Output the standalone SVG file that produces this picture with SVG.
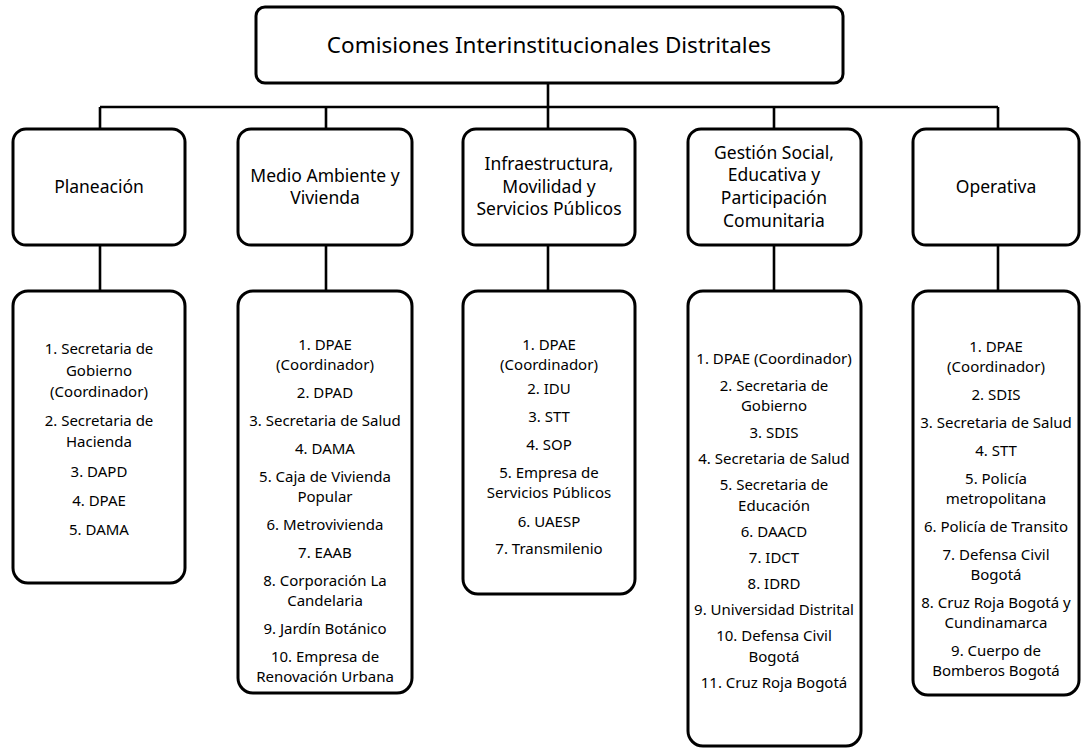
<svg xmlns="http://www.w3.org/2000/svg" width="1081" height="749" viewBox="0 0 1081 749">
  <style>
    .box { fill: #ffffff; stroke: #000000; stroke-width: 3; }
    .wire { fill: none; stroke: #000000; stroke-width: 2.6; }
    text { font-family: "Noto Sans", "Open Sans", sans-serif; fill: #000000; text-anchor: middle; }
    .title { font-size: 22.5px; }
    .head { font-size: 17.5px; }
    .item { font-size: 15px; }
  </style>
  <rect width="1081" height="749" fill="#ffffff"/>

  <!-- tree connectors -->
  <g id="connectors">
    <path class="wire" d="M548 83 V107 M100 107 H998"/>
    <path class="wire" d="M100 107 V129 M326 107 V129 M548 107 V129 M774 107 V129 M998 107 V129"/>
    <path class="wire" d="M100 245 V291 M326 245 V291 M548 245 V291 M774 245 V291 M998 245 V291"/>
  </g>

  <!-- root -->
  <g id="root">
    <rect class="box" x="256" y="7" width="587" height="76" rx="9"/>
    <text class="title" x="549" y="53">Comisiones Interinstitucionales Distritales</text>
  </g>

  <!-- commission headings -->
  <g id="planeacion">
    <rect class="box" x="13" y="129" width="172" height="116" rx="13"/>
    <text class="head" x="99" y="193">Planeación</text>
  </g>
  <g id="medio-ambiente">
    <rect class="box" x="238" y="129" width="174" height="116" rx="13"/>
    <text class="head" x="325" y="182">Medio Ambiente y</text>
    <text class="head" x="325" y="204">Vivienda</text>
  </g>
  <g id="infraestructura">
    <rect class="box" x="463" y="129" width="172" height="116" rx="13"/>
    <text class="head" x="549" y="170">Infraestructura,</text>
    <text class="head" x="549" y="193">Movilidad y</text>
    <text class="head" x="549" y="215">Servicios Públicos</text>
  </g>
  <g id="gestion-social">
    <rect class="box" x="688" y="129" width="173" height="116" rx="13"/>
    <text class="head" x="774" y="159">Gestión Social,</text>
    <text class="head" x="774" y="181">Educativa y</text>
    <text class="head" x="774" y="204">Participación</text>
    <text class="head" x="774" y="227">Comunitaria</text>
  </g>
  <g id="operativa">
    <rect class="box" x="913" y="129" width="166" height="116" rx="13"/>
    <text class="head" x="996" y="193">Operativa</text>
  </g>

  <!-- member lists -->
  <g id="planeacion-miembros">
    <rect class="box" x="13" y="291" width="172" height="292" rx="15"/>
    <text class="item" x="99" y="354">1. Secretaria de</text>
    <text class="item" x="99" y="376">Gobierno</text>
    <text class="item" x="99" y="397">(Coordinador)</text>
    <text class="item" x="99" y="426">2. Secretaria de</text>
    <text class="item" x="99" y="447">Hacienda</text>
    <text class="item" x="99" y="477">3. DAPD</text>
    <text class="item" x="99" y="506">4. DPAE</text>
    <text class="item" x="99" y="535">5. DAMA</text>
  </g>
  <g id="medio-ambiente-miembros">
    <rect class="box" x="238" y="291" width="174" height="402" rx="15"/>
    <text class="item" x="325" y="350">1. DPAE</text>
    <text class="item" x="325" y="370">(Coordinador)</text>
    <text class="item" x="325" y="398">2. DPAD</text>
    <text class="item" x="325" y="426">3. Secretaria de Salud</text>
    <text class="item" x="325" y="454">4. DAMA</text>
    <text class="item" x="325" y="482">5. Caja de Vivienda</text>
    <text class="item" x="325" y="502">Popular</text>
    <text class="item" x="325" y="530">6. Metrovivienda</text>
    <text class="item" x="325" y="558">7. EAAB</text>
    <text class="item" x="325" y="586">8. Corporación La</text>
    <text class="item" x="325" y="606">Candelaria</text>
    <text class="item" x="325" y="634">9. Jardín Botánico</text>
    <text class="item" x="325" y="662">10. Empresa de</text>
    <text class="item" x="325" y="682">Renovación Urbana</text>
  </g>
  <g id="infraestructura-miembros">
    <rect class="box" x="463" y="291" width="172" height="303" rx="15"/>
    <text class="item" x="549" y="350">1. DPAE</text>
    <text class="item" x="549" y="370">(Coordinador)</text>
    <text class="item" x="549" y="394">2. IDU</text>
    <text class="item" x="549" y="422">3. STT</text>
    <text class="item" x="549" y="450">4. SOP</text>
    <text class="item" x="549" y="478">5. Empresa de</text>
    <text class="item" x="549" y="498">Servicios Públicos</text>
    <text class="item" x="549" y="527">6. UAESP</text>
    <text class="item" x="549" y="554">7. Transmilenio</text>
  </g>
  <g id="gestion-social-miembros">
    <rect class="box" x="688" y="291" width="173" height="455" rx="15"/>
    <text class="item" x="774" y="364">1. DPAE (Coordinador)</text>
    <text class="item" x="774" y="391">2. Secretaria de</text>
    <text class="item" x="774" y="411">Gobierno</text>
    <text class="item" x="774" y="438">3. SDIS</text>
    <text class="item" x="774" y="464">4. Secretaria de Salud</text>
    <text class="item" x="774" y="490">5. Secretaria de</text>
    <text class="item" x="774" y="511">Educación</text>
    <text class="item" x="774" y="537">6. DAACD</text>
    <text class="item" x="774" y="563">7. IDCT</text>
    <text class="item" x="774" y="589">8. IDRD</text>
    <text class="item" x="774" y="615">9. Universidad Distrital</text>
    <text class="item" x="774" y="641">10. Defensa Civil</text>
    <text class="item" x="774" y="662">Bogotá</text>
    <text class="item" x="774" y="688">11. Cruz Roja Bogotá</text>
  </g>
  <g id="operativa-miembros">
    <rect class="box" x="913" y="291" width="166" height="404" rx="15"/>
    <text class="item" x="996" y="352">1. DPAE</text>
    <text class="item" x="996" y="372">(Coordinador)</text>
    <text class="item" x="996" y="400">2. SDIS</text>
    <text class="item" x="996" y="428">3. Secretaria de Salud</text>
    <text class="item" x="996" y="456">4. STT</text>
    <text class="item" x="996" y="484">5. Policía</text>
    <text class="item" x="996" y="504">metropolitana</text>
    <text class="item" x="996" y="532">6. Policía de Transito</text>
    <text class="item" x="996" y="560">7. Defensa Civil</text>
    <text class="item" x="996" y="580">Bogotá</text>
    <text class="item" x="996" y="608">8. Cruz Roja Bogotá y</text>
    <text class="item" x="996" y="628">Cundinamarca</text>
    <text class="item" x="996" y="656">9. Cuerpo de</text>
    <text class="item" x="996" y="676">Bomberos Bogotá</text>
  </g>
</svg>
